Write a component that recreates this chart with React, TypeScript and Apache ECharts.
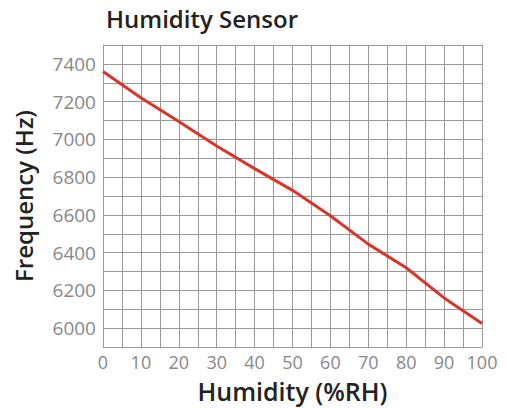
import React, { useEffect, useRef } from "react";
import * as echarts from "echarts";

const humidity = [0, 10, 20, 30, 40, 50, 60, 70, 80, 90, 100];
const frequency = [7360, 7220, 7095, 6965, 6845, 6730, 6595, 6445, 6320, 6160, 6025];
const titleText = "Humidity Sensor";
const xName = "Humidity (%RH)";
const yName = "Frequency (Hz)";

export default function App() {
  const ref = useRef<HTMLDivElement>(null);
  useEffect(() => {
    document.body.style.margin = "0";
    const chart = echarts.init(ref.current!, null, { renderer: "svg" });
    const font = "'Open Sans', 'Noto Sans', sans-serif";
    chart.setOption({
      animation: false,
      backgroundColor: "#fff",
      title: {
        text: titleText,
        left: 101,
        top: 1,
        textStyle: { fontFamily: font, fontSize: 24, fontWeight: 600, color: "#222" },
      },
      grid: { left: 103, right: 25, top: 45, bottom: 60, containLabel: false },
      xAxis: {
        type: "value",
        min: 0,
        max: 100,
        interval: 5,
        name: xName,
        nameLocation: "middle",
        nameGap: 31,
        nameTextStyle: { fontFamily: font, fontSize: 25, fontWeight: 600, color: "#222", lineHeight: 25 },
        axisLine: { show: true, lineStyle: { color: "#999", width: 1 } },
        axisTick: { show: false },
        axisLabel: {
          fontFamily: font,
          fontSize: 18,
          lineHeight: 18,
          color: "#888",
          margin: 6,
          formatter: (v: number) => (v % 10 === 0 ? String(v) : ""),
        },
        splitLine: { show: true, lineStyle: { color: "#999", width: 1 } },
      },
      yAxis: {
        type: "value",
        min: 5900,
        max: 7500,
        interval: 100,
        name: yName,
        nameLocation: "middle",
        nameGap: 68,
        nameTextStyle: { fontFamily: font, fontSize: 24, fontWeight: 600, color: "#222" },
        axisLine: { show: true, lineStyle: { color: "#999", width: 1 } },
        axisTick: { show: false },
        axisLabel: {
          fontFamily: font,
          fontSize: 19,
          color: "#888",
          margin: 7,
          formatter: (v: number) =>
            v % 200 === 0 && v >= 6000 && v <= 7400 ? String(v) : "",
        },
        splitLine: { show: true, lineStyle: { color: "#999", width: 1 } },
      },
      series: [
        {
          type: "line",
          data: humidity.map((h, i) => [h, frequency[i]]),
          showSymbol: false,
          lineStyle: { color: "#d8362c", width: 3 },
          smooth: false,
        },
      ],
    });
    return () => chart.dispose();
  }, []);
  return <div ref={ref} style={{ width: 507, height: 408 }} />;
}
